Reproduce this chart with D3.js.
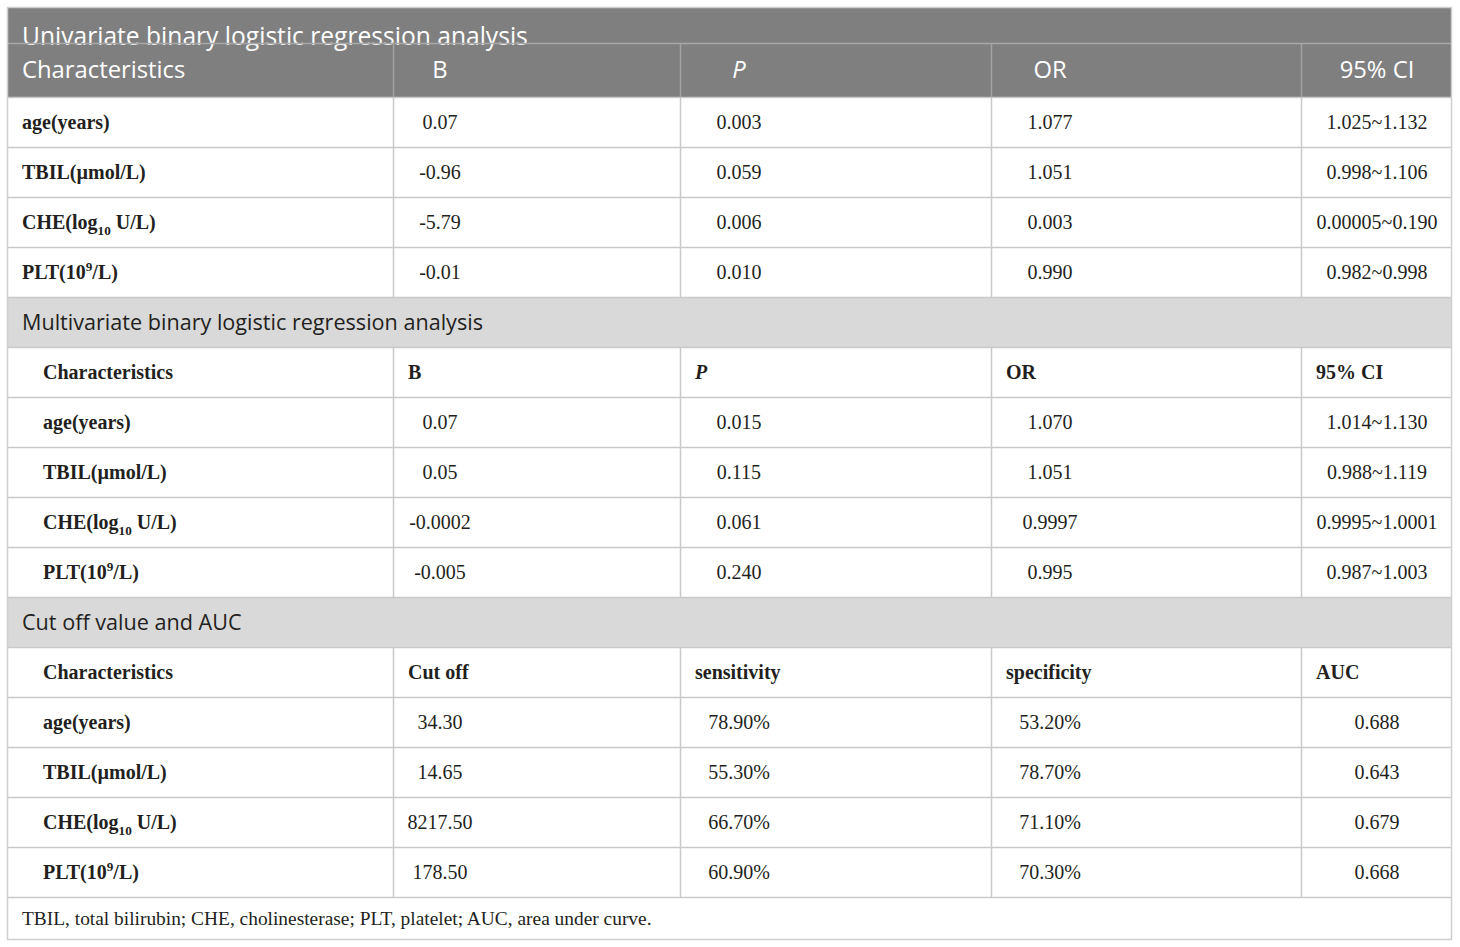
<!DOCTYPE html>
<html><head><meta charset="utf-8">
<script src="https://cdn.jsdelivr.net/npm/d3@7"></script>
<style>body{margin:0;background:#fff}svg{display:block}</style>
</head><body><svg id="c" width="1460" height="947"></svg>
<script>
// ---------- data ----------
const tableTitle = "Univariate binary logistic regression analysis";
const headers1 = ["Characteristics", "B", "P", "OR", "95% CI"];
const characteristics = ["age(years)", "TBIL(\u00b5mol/L)", "CHE(log_{10} U/L)", "PLT(10^{9}/L)"];
const uniB  = ["0.07", "-0.96", "-5.79", "-0.01"];
const uniP  = ["0.003", "0.059", "0.006", "0.010"];
const uniOR = ["1.077", "1.051", "0.003", "0.990"];
const uniCI = ["1.025~1.132", "0.998~1.106", "0.00005~0.190", "0.982~0.998"];

const section2Title = "Multivariate binary logistic regression analysis";
const headers2 = ["Characteristics", "B", "P", "OR", "95% CI"];
const multiB  = ["0.07", "0.05", "-0.0002", "-0.005"];
const multiP  = ["0.015", "0.115", "0.061", "0.240"];
const multiOR = ["1.070", "1.051", "0.9997", "0.995"];
const multiCI = ["1.014~1.130", "0.988~1.119", "0.9995~1.0001", "0.987~1.003"];

const section3Title = "Cut off value and AUC";
const headers3 = ["Characteristics", "Cut off", "sensitivity", "specificity", "AUC"];
const cutOff      = ["34.30", "14.65", "8217.50", "178.50"];
const sensitivity = ["78.90%", "55.30%", "66.70%", "60.90%"];
const specificity = ["53.20%", "78.70%", "71.10%", "70.30%"];
const auc         = ["0.688", "0.643", "0.679", "0.668"];

const footnote = "TBIL, total bilirubin; CHE, cholinesterase; PLT, platelet; AUC, area under curve.";

// ---------- layout ----------
const svg = d3.select("#c");
const L = 7, R = 1452;
const colEdges = [7, 393, 680, 991, 1301, 1452];
const colAnchor = [0, 47, 59, 59, 76]; // centre offsets for value columns
const SANS = "'Open Sans', 'Noto Sans', sans-serif";
const SERIF = "'Liberation Serif', 'DejaVu Serif', serif";
const GRID = "#c9c9c9";

const rows = [
  {t:"title", h:36}, {t:"head1", h:54},
  {t:"uni", i:0, h:50},{t:"uni", i:1, h:50},{t:"uni", i:2, h:50},{t:"uni", i:3, h:50},
  {t:"band", s:section2Title, h:50}, {t:"head", hd:headers2, h:50},
  {t:"multi", i:0, h:50},{t:"multi", i:1, h:50},{t:"multi", i:2, h:50},{t:"multi", i:3, h:50},
  {t:"band", s:section3Title, h:50}, {t:"head", hd:headers3, h:50},
  {t:"cut", i:0, h:50},{t:"cut", i:1, h:50},{t:"cut", i:2, h:50},{t:"cut", i:3, h:50},
  {t:"foot", h:43}
];
let acc = 7;
rows.forEach(r => { r.y0 = acc; acc += r.h; r.y1 = acc; });

function richText(sel, str, size) {
  const re = /(_\{[^}]*\}|\^\{[^}]*\})/g;
  const parts = str.split(re).filter(s => s.length);
  let pending = 0;
  parts.forEach(p => {
    let t;
    if (p.startsWith("_{")) {
      const d = size * 0.28;
      t = sel.append("tspan").attr("font-size", size * 0.66).attr("dy", pending + d).text(p.slice(2, -1));
      pending = -d;
    } else if (p.startsWith("^{")) {
      const d = -size * 0.4;
      t = sel.append("tspan").attr("font-size", size * 0.66).attr("dy", pending + d).text(p.slice(2, -1));
      pending = -d;
    } else {
      t = sel.append("tspan").text(p);
      if (pending) t.attr("dy", pending);
      pending = 0;
    }
  });
}

// backgrounds
rows.forEach(r => {
  let fill = "#fff";
  if (r.t === "title" || r.t === "head1") fill = "#7f7f7f";
  if (r.t === "band") fill = "#d9d9d9";
  svg.append("rect").attr("x", L).attr("y", r.y0).attr("width", R - L).attr("height", r.h).attr("fill", fill);
});

const anchorX = c => colEdges[c] + colAnchor[c];

// texts
rows.forEach(r => {
  const mid = (r.y0 + r.y1) / 2;
  if (r.t === "title") {
    svg.append("text").attr("x", 22).attr("y", r.y1 + 2).attr("fill", "#fff")
      .attr("font-family", SANS).attr("font-size", 24.6).text(tableTitle);
  } else if (r.t === "head1") {
    headers1.forEach((h, c) => {
      const t = svg.append("text").attr("y", mid + 8).attr("fill", "#fff")
        .attr("font-family", SANS).attr("font-size", 23.8).text(h);
      if (c === 0) t.attr("x", 22);
      else t.attr("x", anchorX(c)).attr("text-anchor", "middle");
      if (h === "P") t.attr("font-style", "italic");
    });
  } else if (r.t === "band") {
    svg.append("text").attr("x", 22).attr("y", mid + 7.5).attr("fill", "#231f20")
      .attr("font-family", SANS).attr("font-size", 21.6).text(r.s);
  } else if (r.t === "head") {
    r.hd.forEach((h, c) => {
      const t = svg.append("text").attr("y", mid + 7).attr("fill", "#231f20")
        .attr("font-family", SERIF).attr("font-weight", "bold").attr("font-size", 20)
        .attr("x", c === 0 ? 43 : colEdges[c] + 15).text(h);
      if (h === "P") t.attr("font-style", "italic");
    });
  } else if (r.t === "uni" || r.t === "multi" || r.t === "cut") {
    const vals = r.t === "uni" ? [uniB, uniP, uniOR, uniCI]
               : r.t === "multi" ? [multiB, multiP, multiOR, multiCI]
               : [cutOff, sensitivity, specificity, auc];
    const lbl = svg.append("text").attr("x", r.t === "uni" ? 22 : 43).attr("y", mid + 7)
      .attr("fill", "#231f20").attr("font-family", SERIF).attr("font-weight", "bold").attr("font-size", 20);
    richText(lbl, characteristics[r.i], 20);
    vals.forEach((arr, c) => {
      svg.append("text").attr("x", anchorX(c + 1)).attr("y", mid + 7).attr("text-anchor", "middle")
        .attr("fill", "#231f20").attr("font-family", SERIF).attr("font-size", 20).text(arr[r.i]);
    });
  } else if (r.t === "foot") {
    svg.append("text").attr("x", 22).attr("y", mid + 6.5).attr("fill", "#231f20")
      .attr("font-family", SERIF).attr("font-size", 19.4).text(footnote);
  }
});

// horizontal lines
rows.forEach((r, k) => {
  if (k === 0) return;
  const c = (r.t === "head1") ? "#a9a9a9" : GRID;
  svg.append("line").attr("x1", L).attr("x2", R).attr("y1", r.y0 + 0.5).attr("y2", r.y0 + 0.5)
    .attr("stroke", c).attr("stroke-width", 1.5);
});

// vertical lines
rows.forEach(r => {
  if (r.t === "title" || r.t === "band" || r.t === "foot") return;
  colEdges.slice(1, -1).forEach(cx => {
    svg.append("line").attr("x1", cx + 0.5).attr("x2", cx + 0.5).attr("y1", r.y0).attr("y2", r.y1)
      .attr("stroke", r.t === "head1" ? "#a3a3a3" : GRID).attr("stroke-width", 1.5);
  });
});

// outer border
svg.append("rect").attr("x", L + 0.5).attr("y", 7.5).attr("width", R - L - 1).attr("height", acc - 8)
  .attr("fill", "none").attr("stroke", "#cfcfcf").attr("stroke-width", 1.5);
</script></body></html>
